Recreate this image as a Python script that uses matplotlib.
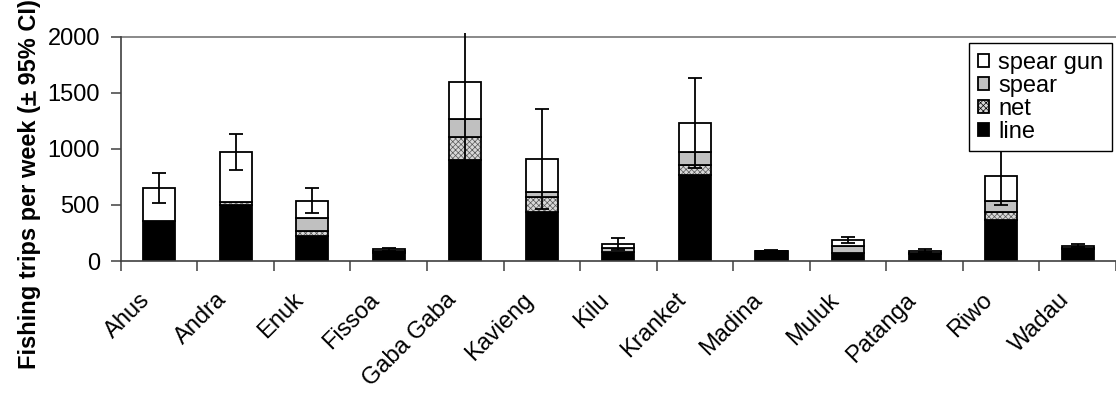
import matplotlib
matplotlib.use("Agg")
import matplotlib.pyplot as plt
from matplotlib.lines import Line2D
from matplotlib.transforms import ScaledTranslation
import numpy as np

plt.rcParams['font.family'] = ['Liberation Sans', 'DejaVu Sans']
plt.rcParams['hatch.linewidth'] = 0.5

# weekly fishing trips by gear type at each site
sites = ["Ahus", "Andra", "Enuk", "Fissoa", "Gaba Gaba", "Kavieng", "Kilu",
         "Kranket", "Madina", "Muluk", "Patanga", "Riwo", "Wadau"]
line = [360, 500, 226, 70, 900, 434, 78, 764, 85, 74, 65, 366, 110]
net = [0, 26, 44, 10, 209, 139, 0, 95, 0, 0, 5, 74, 5]
spear = [0, 0, 116, 5, 155, 45, 35, 113, 0, 60, 5, 95, 0]
spear_gun = [294, 446, 152, 20, 335, 288, 41, 256, 7, 56, 17, 223, 21]
ci95 = [135, 160, 110, 12, 720, 445, 55, 403, 8, 28, 12, 255, 15]

FS = 17

fig = plt.figure(figsize=(11.16, 3.98), dpi=100)
ax = fig.add_axes([0.1082, 0.3442, 0.8918, 0.5721])

x = np.arange(len(sites))
w = 0.42
ew = 1.3
b1 = ax.bar(x, line, w, color="black", edgecolor="black", lw=ew, zorder=2)
bottom = np.array(line)
# net: grey hatch fill first, black outline on top
ax.bar(x, net, w, bottom=bottom, color="#d8d8d8", edgecolor="#555555",
       hatch="xxxxxx", lw=0, zorder=2)
b2 = ax.bar(x, net, w, bottom=bottom, fill=False, edgecolor="black", lw=ew,
            zorder=2)
bottom = bottom + np.array(net)
b3 = ax.bar(x, spear, w, bottom=bottom, color="#c0c0c0", edgecolor="black",
            lw=ew, zorder=2)
bottom = bottom + np.array(spear)
b4 = ax.bar(x, spear_gun, w, bottom=bottom, color="white", edgecolor="black",
            lw=ew, zorder=2)
total = bottom + np.array(spear_gun)

ax.errorbar(x, total, yerr=ci95, fmt="none", ecolor="black", elinewidth=1.3,
            capsize=5, capthick=1.3, zorder=3)

ax.set_xlim(-0.5, 12.425)
ax.set_ylim(0, 2030)
ax.set_yticks([0, 500, 1000, 1500, 2000])
ax.axhline(2000, color="#808080", lw=1.3, zorder=1)
for s in ["top", "right"]:
    ax.spines[s].set_visible(False)
ax.spines["left"].set_bounds(0, 2000)
for s in ["left", "bottom"]:
    ax.spines[s].set_color("#404040")
    ax.spines[s].set_linewidth(1.2)

# category ticks sit between bars, labels centred under each bar
ax.set_xticks(np.arange(-0.5, 13, 1.0))
ax.set_xticklabels([])
ax.set_xticks(x, minor=True)
ax.set_xticklabels(sites, minor=True, rotation=45, ha="right", va="top",
                   rotation_mode="anchor", fontsize=FS)
ax.tick_params(axis="x", which="minor", length=0, pad=20)
ax.tick_params(axis="x", which="major", length=7, width=1.1, color="#404040")
ax.tick_params(axis="y", length=7, width=1.1, color="#404040", labelsize=FS,
               pad=8)
shift = ScaledTranslation(-0.20, 0, fig.dpi_scale_trans)
for lab in ax.get_xticklabels(minor=True):
    lab.set_transform(lab.get_transform() + shift)

prefix = "Fishing trips per week ("
ylab = fig.text(0.0367, 0.538, prefix + "+ 95% CI)", rotation=90,
                va="center", ha="right", fontsize=FS, fontweight="bold")

# underline the plus sign
fig.canvas.draw()
r = fig.canvas.get_renderer()
fp = ylab.get_fontproperties()
ext = ylab.get_window_extent(r)
w_pre = r.get_text_width_height_descent(prefix, fp, ismath=False)[0]
w_plus = r.get_text_width_height_descent("+", fp, ismath=False)[0]
desc = r.get_text_width_height_descent(ylab.get_text(), fp, ismath=False)[2]
ux = ext.x1 - desc - 1.5
uy0 = ext.y0 + w_pre + 1
uy1 = uy0 + w_plus - 2
W, H = fig.bbox.width, fig.bbox.height
fig.add_artist(Line2D([ux / W, ux / W], [uy0 / H, uy1 / H], color="black",
                      lw=1.8, transform=fig.transFigure))

leg = ax.legend([b4, b3, b2, b1], ["spear gun", "spear", "net", "line"],
                loc="upper right", bbox_to_anchor=(0.9967, 0.8927),
                bbox_transform=fig.transFigure, borderaxespad=0, fontsize=FS,
                frameon=True, fancybox=False, framealpha=1, edgecolor="black",
                handlelength=0.47, handleheight=0.47, handletextpad=0.38,
                labelspacing=0.04, borderpad=0.38)
leg.get_frame().set_linewidth(1.0)
leg.set_zorder(5)
# legend swatch for net shows the hatch too
leg.legend_handles[2].set_hatch("xxxxxx")
leg.legend_handles[2].set_facecolor("#d8d8d8")
leg.legend_handles[2].set_fill(True)

fig.savefig("out.png", dpi=100)
